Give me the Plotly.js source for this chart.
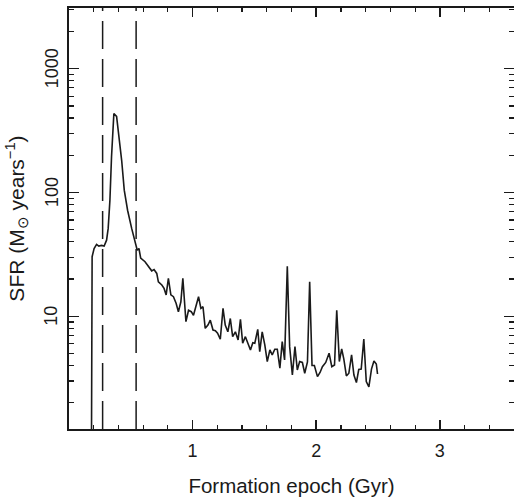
<!DOCTYPE html>
<html>
<head>
<meta charset="utf-8">
<script src="https://cdn.plot.ly/plotly-3.0.1.min.js"></script>
<style>html,body{margin:0;padding:0;background:#fff;}#chart{width:514px;height:500px;}</style>
</head>
<body>
<div id="chart"></div>
<script>
// Formation epoch (Gyr)
const epoch = [0.182,0.182,0.187,0.203,0.223,0.241,0.263,0.284,0.304,0.317,0.331,0.344,0.363,0.385,0.398,0.426,0.447,0.474,0.507,0.534,0.552,0.566,0.580,0.615,0.642,0.669,0.688,0.710,0.723,0.751,0.769,0.786,0.804,0.824,0.845,0.867,0.885,0.905,0.921,0.946,0.967,0.989,1.007,1.027,1.048,1.067,1.084,1.102,1.124,1.143,1.165,1.184,1.202,1.224,1.246,1.264,1.285,1.305,1.324,1.346,1.368,1.387,1.405,1.427,1.449,1.468,1.487,1.503,1.527,1.543,1.563,1.584,1.604,1.625,1.644,1.665,1.685,1.706,1.725,1.744,1.766,1.785,1.807,1.828,1.847,1.866,1.888,1.907,1.929,1.947,1.966,1.985,2.010,2.031,2.050,2.077,2.104,2.126,2.148,2.166,2.187,2.206,2.223,2.244,2.264,2.286,2.305,2.325,2.344,2.364,2.385,2.405,2.426,2.447,2.467,2.486,2.496];
// Star formation rate (Msun / yr)
const sfr = [1.0,26.7,30.3,35.3,38.1,36.9,37.4,36.9,41.2,51.3,86.7,193.6,433.6,412,317.9,182,104.4,71.9,51.3,38.8,34.2,35.3,29.5,27.6,25.4,23.3,23.9,22.2,19.0,17.9,16.8,14.9,20.3,14.9,14.4,12.7,10.9,13.1,20.3,9.05,11.2,10.9,10.2,12.3,14.4,11.6,11.95,8.0,8.5,9.3,7.75,7.65,7.3,6.53,11.6,8.5,7.5,9.6,6.85,7.5,6.44,9.46,6.06,6.85,5.87,5.35,6.12,6.06,7.85,5.19,7.5,5.87,4.31,5.35,4.88,5.42,5.42,3.81,6.24,4.45,25.4,5.69,3.36,5.69,3.69,4.31,4.24,3.47,4.28,19.0,4.01,4.01,3.26,3.52,3.92,4.24,5.03,3.92,4.05,11.2,4.31,5.45,4.53,3.30,3.47,4.88,3.36,2.92,3.72,3.75,6.56,2.97,2.69,3.75,4.36,4.12,3.42];
// Dashed reference epochs (Gyr)
const markEpochs = [0.272, 0.543];
const xTickVals = [1, 2, 3];
const yTickVals = [10, 100, 1000];
const yTickText = ['10', '100', '1000'];

const yMinor = [];
[1, 10, 100, 1000].forEach(d => { for (let k = 2; k <= 9; k++) yMinor.push(k * d); });

const ink = '#1a1a1a';
const font = "'Liberation Sans', Arial, sans-serif";

const shapes = markEpochs.map(e => ({
  type: 'line', xref: 'x', yref: 'paper', x0: e, x1: e, y0: 0, y1: 1,
  line: {color: ink, width: 1.5, dash: '28px,10px'}
}));

// y tick labels drawn as annotations at the axis' own tick values (log axis -> log10 position)
const yLabelAnns = yTickVals.map((v, i) => ({
  xref: 'paper', x: 0, yref: 'y', y: Math.log10(v),
  text: yTickText[i], showarrow: false, textangle: -90,
  xanchor: 'center', yanchor: 'middle', xshift: -17.5,
  font: {size: 18, family: font, color: ink}
}));

const trace = {
  x: epoch, y: sfr, type: 'scatter', mode: 'lines',
  line: {color: ink, width: 1.6}, hoverinfo: 'skip'
};

const layout = {
  width: 514, height: 500,
  margin: {l: 69, r: 0, t: 8, b: 71},
  paper_bgcolor: '#fff', plot_bgcolor: '#fff',
  showlegend: false,
  font: {family: font, color: ink, size: 18},
  shapes: shapes,
  annotations: yLabelAnns,
  xaxis: {
    range: [0, 3.6], tickmode: 'array', tickvals: xTickVals,
    ticks: 'inside', ticklen: 9, tickwidth: 1.5, tickcolor: ink,
    ticklabelstandoff: 5,
    showline: true, linecolor: ink, linewidth: 1.8, mirror: 'ticks',
    showgrid: false, zeroline: false,
    tickfont: {size: 18, family: font, color: ink},
    minor: {dtick: 0.2, ticks: 'inside', ticklen: 4, tickwidth: 1.2, tickcolor: ink, showgrid: false},
    title: {text: 'Formation epoch (Gyr)', font: {size: 20.5, family: font, color: ink}, standoff: 18}
  },
  yaxis: {
    type: 'log', range: [0.09, 3.49], tickmode: 'array', tickvals: yTickVals,
    showticklabels: false,
    ticks: 'inside', ticklen: 10, tickwidth: 1.5, tickcolor: ink,
    showline: true, linecolor: ink, linewidth: 1.8, mirror: 'ticks',
    showgrid: false, zeroline: false,
    minor: {tickvals: yMinor, ticks: 'inside', ticklen: 5, tickwidth: 1.2, tickcolor: ink, showgrid: false},
    title: {text: 'SFR (M<sub>⊙</sub> years<sup>−1</sup>)', font: {size: 21, family: font, color: ink}, standoff: 37}
  }
};

Plotly.newPlot('chart', [trace], layout, {staticPlot: true, displayModeBar: false});
</script>
</body>
</html>
